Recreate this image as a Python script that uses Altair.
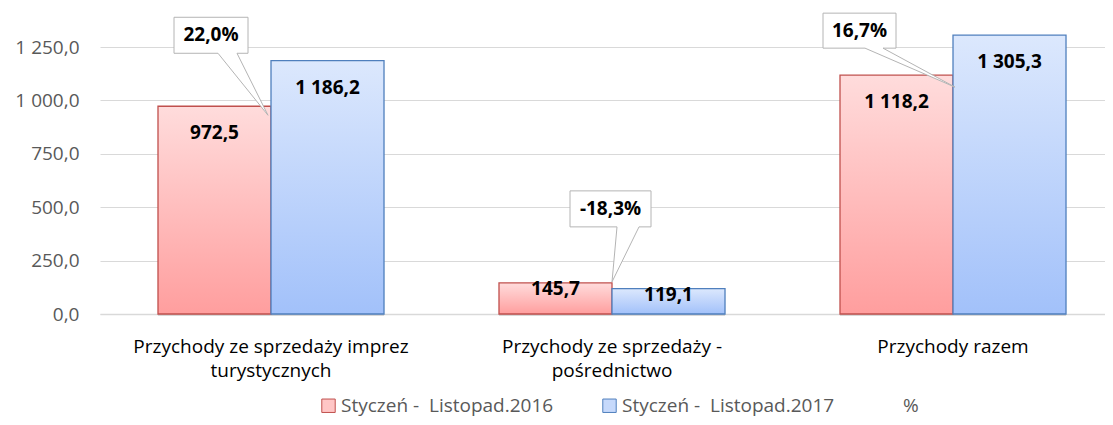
import altair as alt
import pandas as pd
import json

# ---------------- data ----------------
categories = [
    "Przychody ze sprzedaży imprez turystycznych",
    "Przychody ze sprzedaży - pośrednictwo",
    "Przychody razem",
]
category_lines = [
    ["Przychody ze sprzedaży imprez", "turystycznych"],
    ["Przychody ze sprzedaży -", "pośrednictwo"],
    ["Przychody razem"],
]
series = ["Styczeń -\u00a0 Listopad.2016", "Styczeń -\u00a0 Listopad.2017", "%"]
values_2016 = [972.5, 145.7, 1118.2]
values_2017 = [1186.2, 119.1, 1305.3]
pct_change = [22.0, -18.3, 16.7]
y_ticks = [0, 250, 500, 750, 1000, 1250]


def pl(v, d=1):
    s = f"{v:,.{d}f}"
    return s.replace(",", " ").replace(".", ",")


rows = []
for c, a, b in zip(categories, values_2016, values_2017):
    rows.append({"category": c, "series": series[0], "value": a, "label": pl(a)})
    rows.append({"category": c, "series": series[1], "value": b, "label": pl(b)})
bars_df = pd.DataFrame(rows)

callout_df = pd.DataFrame({
    "category": categories,
    "anchor": values_2016,
    "label": [pl(p) + "%" for p in pct_change],
})
legend_df = pd.DataFrame({"series": series})

# ---------------- styles ----------------
FONT = "Open Sans"
FS = 19
LABEL_GREY = "#595959"
GRID = "#d9d9d9"
red_grad = alt.Gradient(
    gradient="linear", x1=0, x2=0, y1=0, y2=1,
    stops=[alt.GradientStop(color="#ffdcdc", offset=0),
           alt.GradientStop(color="#ff9e9e", offset=1)],
)
blue_grad = alt.Gradient(
    gradient="linear", x1=0, x2=0, y1=0, y2=1,
    stops=[alt.GradientStop(color="#dce8fd", offset=0),
           alt.GradientStop(color="#a2c1fa", offset=1)],
)

label_expr = " : ".join(
    f"datum.value == {json.dumps(c)} ? {json.dumps(l)}" for c, l in zip(categories, category_lines)
) + " : datum.label"

x_enc = alt.X(
    "category:N",
    scale=alt.Scale(domain=categories, paddingInner=0.3372, paddingOuter=0.1422, align=0.598),
    axis=alt.Axis(
        title=None, labelExpr=label_expr, labelAngle=0, labelFont=FONT, labelFontSize=FS,
        labelColor="#000000", labelBaseline="alphabetic", labelPadding=38, labelLineHeight=24,
        ticks=False, tickSize=0, domain=True, domainColor=GRID, domainWidth=1.5, grid=False,
        labelLimit=400,
    ),
)
y_scale = alt.Scale(domain=[0, 1250], nice=False, zero=True)
y_enc = alt.Y(
    "value:Q", scale=y_scale,
    axis=alt.Axis(
        title=None, values=y_ticks,
        labelExpr="replace(replace(format(datum.value, ',.1f'), ',', ' '), '.', ',')",
        labelFont=FONT, labelFontSize=FS, labelColor=LABEL_GREY, labelPadding=21,
        ticks=False, tickSize=0, domain=False, grid=True, gridColor=GRID, gridWidth=1,
    ),
)
xoff = alt.XOffset("series:N", scale=alt.Scale(domain=series[:2], paddingInner=0, paddingOuter=0))

base = alt.Chart(bars_df)

# soft drop shadow behind the bars (Excel style)
shadow = base.mark_bar(
    color="#9e9e9e", opacity=0.35, xOffset=2, yOffset=2, y2Offset=2
).encode(x=x_enc, xOffset=xoff, y=y_enc)

bars16 = base.transform_filter(alt.datum.series == series[0]).mark_bar(
    color=red_grad, stroke="#c0504d", strokeWidth=1.3
).encode(x="category:N", xOffset=xoff, y=alt.Y("value:Q", scale=y_scale))
bars17 = base.transform_filter(alt.datum.series == series[1]).mark_bar(
    color=blue_grad, stroke="#4f7fbd", strokeWidth=1.3
).encode(x="category:N", xOffset=xoff, y=alt.Y("value:Q", scale=y_scale))

text_big = base.transform_filter("datum.value > 500").mark_text(
    font=FONT, fontSize=FS, fontWeight="bold", color="#000000", baseline="middle", dy=27
).encode(x="category:N", xOffset=xoff, y=alt.Y("value:Q", scale=y_scale), text="label:N")
text_small = base.transform_filter("datum.value <= 500").mark_text(
    font=FONT, fontSize=FS, fontWeight="bold", color="#000000", baseline="middle", dy=6
).encode(x="category:N", xOffset=xoff, y=alt.Y("value:Q", scale=y_scale), text="label:N")

# callout shapes (pixel offsets relative to the anchor at category centre / 2016 bar top)
callout_styles = [
    ("M-97,-89 L-23,-89 L-23,-53 L-34,-53 L-3,9 L-53,-53 L-97,-53 Z", -60, -71),
    ("M-42,-92 L39,-92 L39,-56 L27,-56 L0,-1 L5,-56 L-42,-56 Z", -1.5, -74),
    ("M-130,-62 L-57,-62 L-57,-27 L-70,-27 L2,12 L-88,-27 L-130,-27 Z", -93.5, -44.5),
]
callout_layers = []
for cat, (path, dx, dy) in zip(categories, callout_styles):
    cb = alt.Chart(callout_df).transform_filter(alt.datum.category == cat)
    box = cb.mark_point(
        shape=path, size=4, filled=True, fill="#ffffff", stroke="#b4b4b4",
        strokeWidth=1, opacity=1,
    ).encode(x="category:N", y=alt.Y("anchor:Q", scale=y_scale))
    txt = cb.mark_text(
        font=FONT, fontSize=FS, fontWeight="bold", color="#000000",
        baseline="middle", align="center", dx=dx, dy=dy,
    ).encode(x="category:N", y=alt.Y("anchor:Q", scale=y_scale), text="label:N")
    callout_layers += [box, txt]

legend_def = alt.Legend(
    title=None, orient="none", legendX=219, legendY=349, direction="horizontal",
    columns=3, gridAlign="all",
    labelFont=FONT, labelFontSize=19, labelColor=LABEL_GREY, symbolType="square",
    symbolSize=180, symbolStrokeWidth=1, symbolOpacity=1, labelOffset=3,
    columnPadding=46, padding=0, labelLimit=400,
)
legend_layer = alt.Chart(legend_df).mark_square(opacity=0, size=0).encode(
    fill=alt.Fill("series:N", scale=alt.Scale(domain=series, range=["#ffc6c6", "#c6d9fb", "rgba(0,0,0,0)"]),
                  legend=legend_def),
    stroke=alt.Stroke("series:N", scale=alt.Scale(domain=series, range=["#c0504d", "#4f7fbd", "rgba(0,0,0,0)"]),
                      legend=legend_def),
)

chart = alt.layer(
    shadow, bars16, bars17, text_big, text_small, *callout_layers, legend_layer
).properties(
    width=1005, height=267,
    autosize=alt.AutoSizeParams(type="none"),
    padding={"left": 92, "top": 39, "right": 0, "bottom": 103},
    background="#ffffff",
).configure_view(stroke=None)

chart.save("out.html", embed_options={"renderer": "svg", "actions": False})
